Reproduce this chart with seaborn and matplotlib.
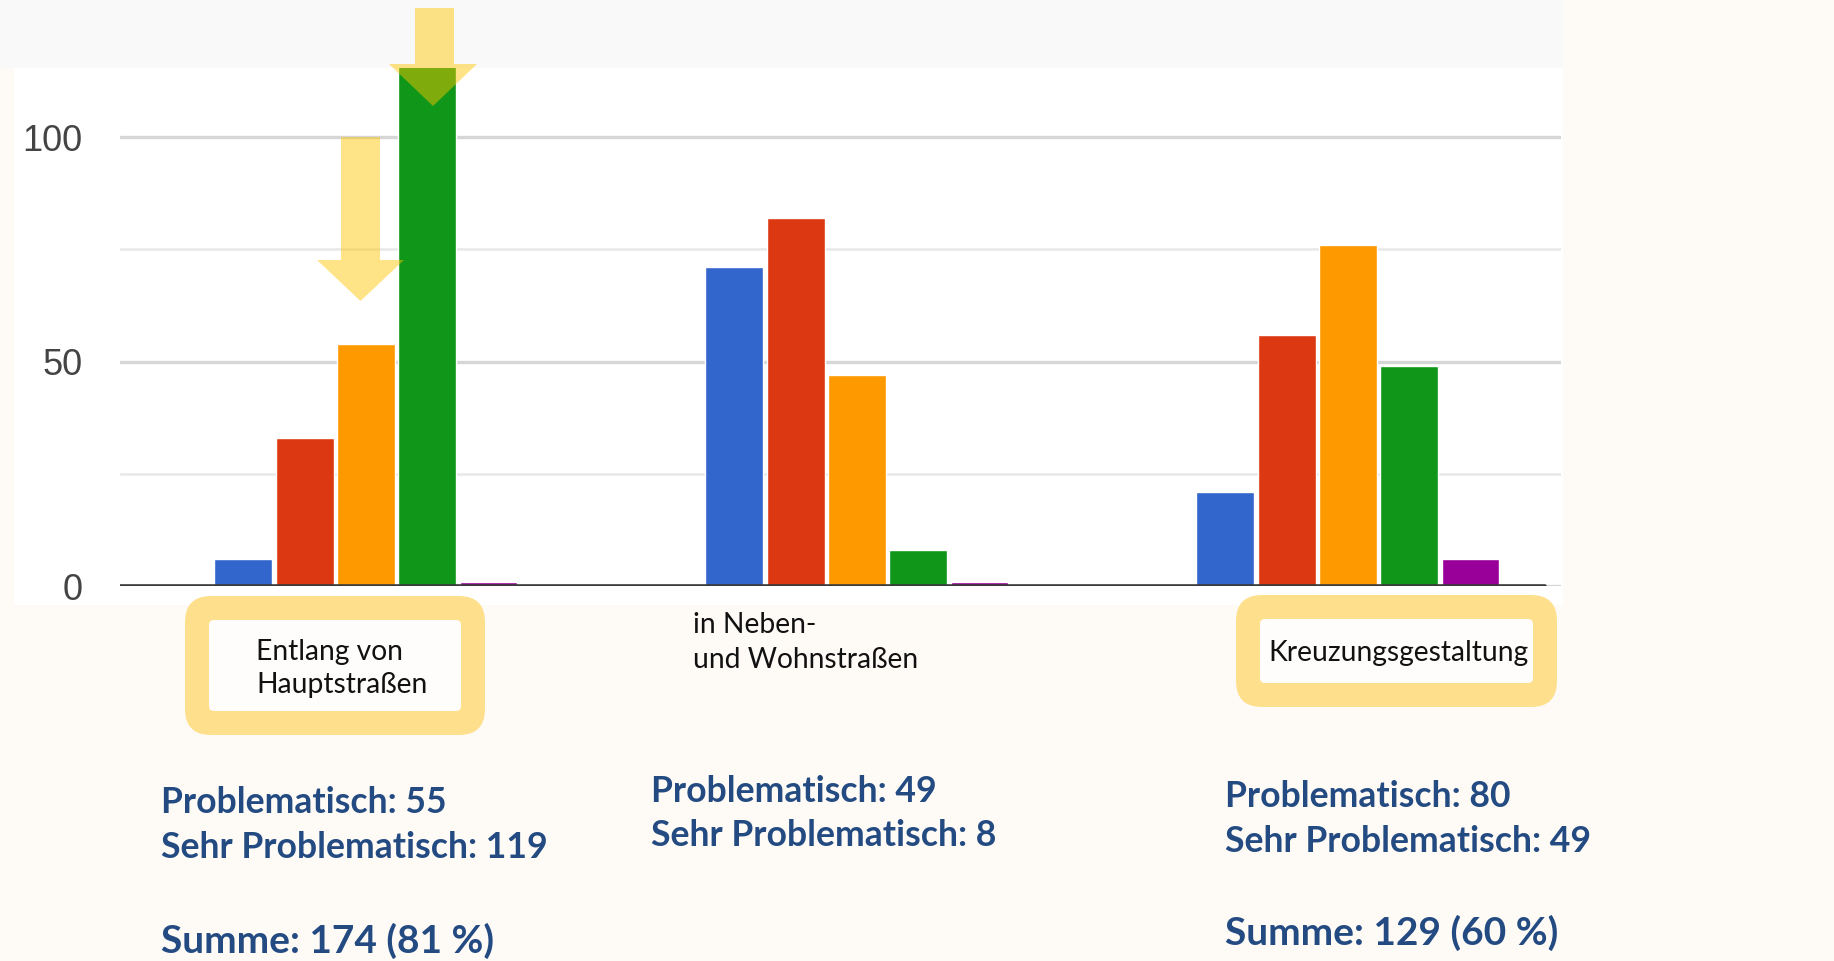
import matplotlib
matplotlib.use("Agg")
import matplotlib.pyplot as plt
from matplotlib.patches import Rectangle, FancyBboxPatch, Polygon
from matplotlib.transforms import IdentityTransform
import seaborn as sns
import pandas as pd

# ---------------- data ----------------
categories = ["Entlang von\nHauptstraßen", "in Neben-\nund Wohnstraßen", "Kreuzungsgestaltung"]
series_names = ["Stufe 1", "Stufe 2", "Problematisch", "Sehr problematisch", "Stufe 5"]
series_colors = ["#3366cc", "#dc3912", "#ff9900", "#109618", "#990099"]
stufe1 = [6, 71, 21]
stufe2 = [33, 82, 56]
problematisch = [54, 47, 76]
sehr_problematisch = [119, 8, 49]
stufe5 = [1, 1, 6]
yticks_major = [0, 50, 100]
yticks_minor = [25, 75]

summary_lines = [
    ["Problematisch: 55", "Sehr Problematisch: 119", "Summe: 174 (81 %)"],
    ["Problematisch: 49", "Sehr Problematisch: 8", None],
    ["Problematisch: 80", "Sehr Problematisch: 49", "Summe: 129 (60 %)"],
]
highlight_boxes = [True, False, True]

# ---------------- layout ----------------
W, H = 1834, 961
DPI = 100
sns.set_theme(style="white")
plt.rcParams["font.family"] = ["Lato", "DejaVu Sans"]

fig = plt.figure(figsize=(W / DPI, H / DPI), dpi=DPI)
fig.patch.set_facecolor("#fefaf6")

def px(x, y):
    return x, H - y

ident = IdentityTransform()

# top grey band
fig.add_artist(Rectangle((0, H - 68), 1563, 68, transform=ident,
                         facecolor="#f9f9f9", edgecolor="none", zorder=-3))
# white chart area
fig.add_artist(Rectangle((14, H - 605), 1549, 537, transform=ident,
                         facecolor="white", edgecolor="none", zorder=-2))

rows = []
vals = [stufe1, stufe2, problematisch, sehr_problematisch, stufe5]
for s, v in zip(series_names, vals):
    for c, val in zip(categories, v):
        rows.append({"cat": c, "series": s, "value": val})
df = pd.DataFrame(rows)

ax_left, ax_right, ax_top, ax_bottom = 120, 1561, 68, 586.4
ax = fig.add_axes([ax_left / W, (H - ax_bottom) / H,
                   (ax_right - ax_left) / W, (ax_bottom - ax_top) / H])
ax.patch.set_alpha(0)

sns.barplot(data=df, x="cat", y="value", hue="series", order=categories,
            hue_order=series_names, palette=series_colors, saturation=1,
            width=0.624, gap=0.055, legend=False, errorbar=None, ax=ax, zorder=2)

ax.set_xlim(-0.501, 2.434)
ax.set_ylim(0, 115.4)
ax.set_yticks(yticks_major)
ax.set_yticks(yticks_minor, minor=True)
ax.grid(axis="y", which="major", color="#d6d6d6", lw=2.4, zorder=0)
ax.grid(axis="y", which="minor", color="#e8e8e8", lw=1.8, zorder=0)
ax.grid(axis="x", visible=False)
ax.set_axisbelow(True)
for sp in ax.spines.values():
    sp.set_visible(False)
ax.axhline(0, xmin=0, xmax=(1545 - ax_left) / (ax_right - ax_left),
           color="#3a3a3a", lw=2.6, zorder=3)
ax.set_xticks([])
ax.set_xlabel("")
ax.set_ylabel("")
ax.tick_params(axis="y", which="both", length=0, pad=27)
for lab in ax.get_yticklabels():
    lab.set_fontfamily(["Liberation Sans", "DejaVu Sans"])
    lab.set_fontsize(26)
    lab.set_color("#444444")

# ---------------- arrows ----------------
arrow_color = "#ffc400"
def down_arrow(x0, x1, ytop, ybase, hx0, hx1, ytip):
    xm = (hx0 + hx1) / 2
    pts = [px(x0, ytop), px(x1, ytop), px(x1, ybase), px(hx1, ybase),
           px(xm, ytip), px(hx0, ybase), px(x0, ybase)]
    fig.add_artist(Polygon(pts, closed=True, transform=ident,
                           facecolor=arrow_color, edgecolor="none", alpha=0.47, zorder=5))

down_arrow(341, 380, 137, 260, 317, 404, 301)
down_arrow(415, 454, 8, 64, 389, 477, 106)

# ---------------- category label boxes ----------------
box_fill = "#fee08c"
outer_boxes = [(185, 596, 485, 735), None, (1236, 595, 1557, 707)]
inner_boxes = [(209, 620, 461, 711), None, (1260, 619, 1533, 683)]
label_pos = [(256, [660, 693]), (693, [633, 668]), (1268, [661])]
for i, cat in enumerate(categories):
    if highlight_boxes[i]:
        x0, y0, x1, y1 = outer_boxes[i]
        fig.add_artist(FancyBboxPatch((x0, H - y1), x1 - x0, y1 - y0,
                                      boxstyle="round,pad=0,rounding_size=26",
                                      transform=ident, facecolor=box_fill,
                                      edgecolor="none", zorder=1))
        x0, y0, x1, y1 = inner_boxes[i]
        fig.add_artist(FancyBboxPatch((x0, H - y1), x1 - x0, y1 - y0,
                                      boxstyle="round,pad=0,rounding_size=5",
                                      transform=ident, facecolor="#fffdfb",
                                      edgecolor="none", zorder=1.5))
    lx, bys = label_pos[i]
    for line, by in zip(cat.split("\n"), bys):
        fig.text(lx / W, 1 - by / H, line, ha="left", va="baseline",
                 fontsize=20.3, color="#111111", zorder=6)

# ---------------- summary text ----------------
sum_color = "#234b82"
sum_x = [161, 651, 1225]
sum_base = [[813, 858, 953], [802, 846, None], [807, 852, 945]]
for i in range(3):
    for j, line in enumerate(summary_lines[i]):
        if line is None:
            continue
        fig.text(sum_x[i] / W, 1 - sum_base[i][j] / H, line, ha="left",
                 va="baseline", fontsize=28 if j == 2 else 25.6,
                 fontweight="bold", color=sum_color, zorder=6)

fig.savefig("out.png", dpi=DPI, facecolor=fig.get_facecolor())
